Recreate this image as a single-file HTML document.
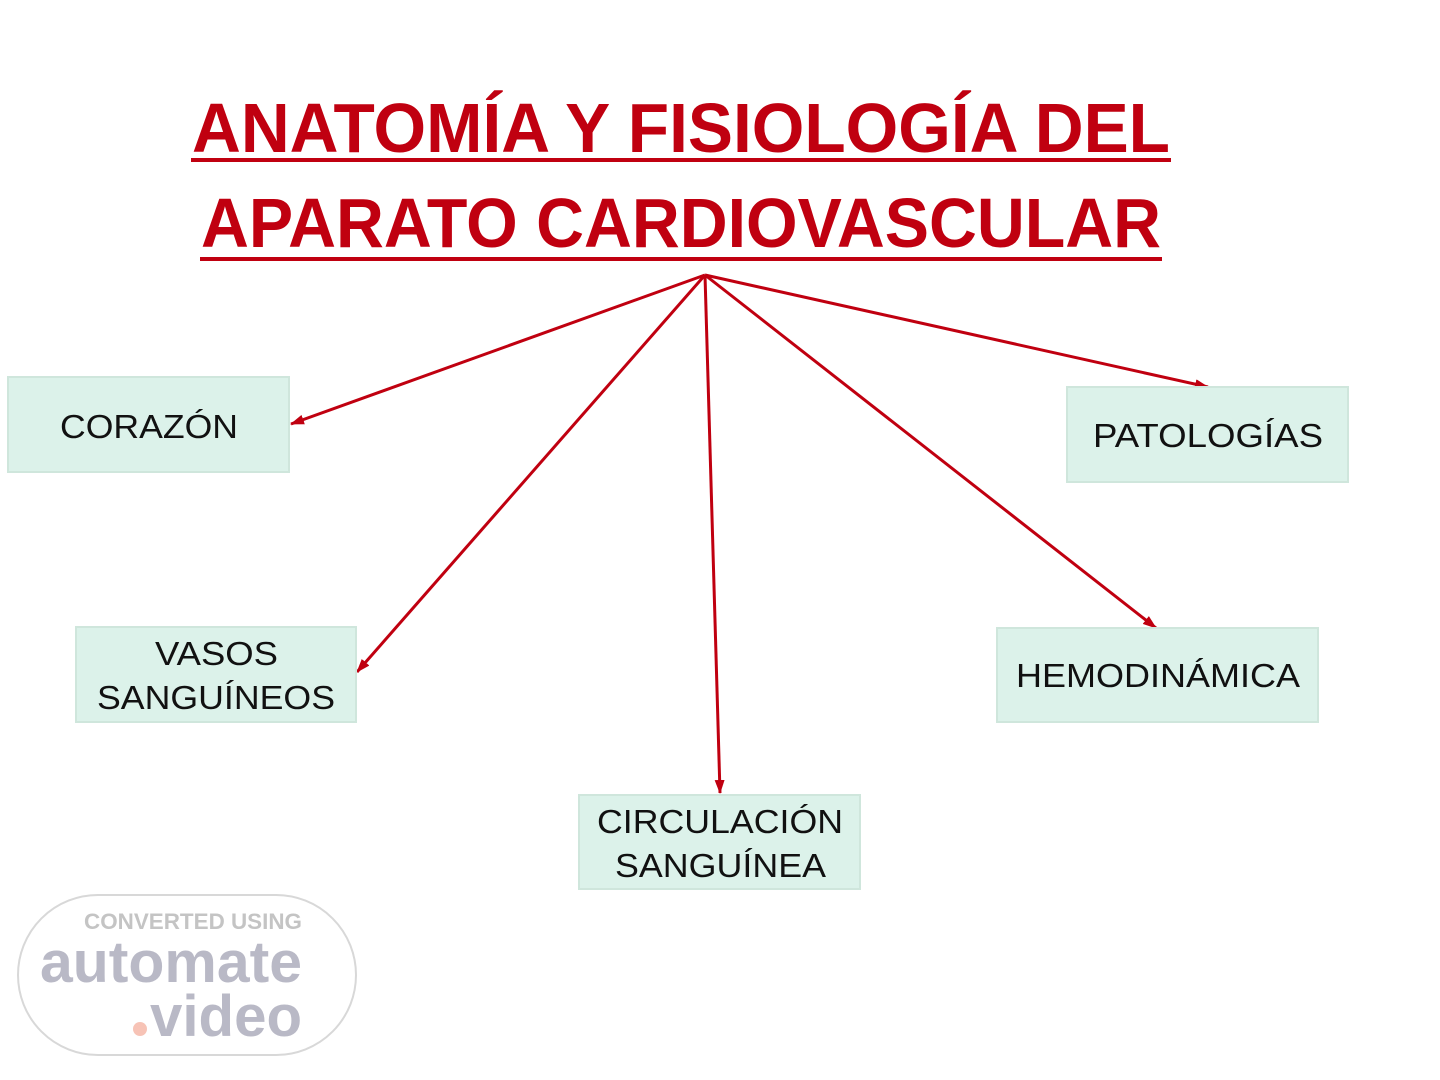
<!DOCTYPE html>
<html><head><meta charset="utf-8"><style>
html,body{margin:0;padding:0;background:#fff;}
svg{display:block;}
</style></head><body>
<svg width="1440" height="1080" viewBox="0 0 1440 1080" xmlns="http://www.w3.org/2000/svg">
<defs>
<marker id="ah" markerWidth="14" markerHeight="10" refX="13" refY="5" orient="auto" markerUnits="userSpaceOnUse">
<path d="M0,0 L14,5 L0,10 z" fill="#c00010"/>
</marker>
</defs>
<g font-family="Liberation Sans, sans-serif" font-weight="bold" fill="#c00010" font-size="70">
<text x="192" y="152" textLength="978" lengthAdjust="spacingAndGlyphs">ANATOMÍA Y FISIOLOGÍA DEL</text>
<text x="201" y="247" textLength="960" lengthAdjust="spacingAndGlyphs">APARATO CARDIOVASCULAR</text>
</g>
<rect x="191" y="158" width="980" height="4" fill="#c00010"/>
<rect x="200" y="257" width="962" height="4" fill="#c00010"/>
<g stroke="#c00010" stroke-width="3" fill="none" marker-end="url(#ah)">
<line x1="705" y1="275" x2="291" y2="424"/>
<line x1="705" y1="275" x2="357" y2="672"/>
<line x1="705" y1="275" x2="720" y2="793"/>
<line x1="705" y1="275" x2="1156" y2="628"/>
<line x1="705" y1="275" x2="1208" y2="387"/>
</g>
<g fill="#dcf2ea" stroke="#cfe6dc" stroke-width="2">
<rect x="8" y="377" width="281" height="95"/>
<rect x="76" y="627" width="280" height="95"/>
<rect x="579" y="795" width="281" height="94"/>
<rect x="997" y="628" width="321" height="94"/>
<rect x="1067" y="387" width="281" height="95"/>
</g>
<g font-family="Liberation Sans, sans-serif" font-size="33" fill="#111" lengthAdjust="spacingAndGlyphs">
<text x="60" y="438" textLength="178" lengthAdjust="spacingAndGlyphs">CORAZÓN</text>
<text x="155" y="665" textLength="123" lengthAdjust="spacingAndGlyphs">VASOS</text>
<text x="97" y="709" textLength="238" lengthAdjust="spacingAndGlyphs">SANGUÍNEOS</text>
<text x="597" y="833" textLength="246" lengthAdjust="spacingAndGlyphs">CIRCULACIÓN</text>
<text x="615" y="877" textLength="211" lengthAdjust="spacingAndGlyphs">SANGUÍNEA</text>
<text x="1016" y="687" textLength="284" lengthAdjust="spacingAndGlyphs">HEMODINÁMICA</text>
<text x="1093" y="447" textLength="230" lengthAdjust="spacingAndGlyphs">PATOLOGÍAS</text>
</g>
<rect x="18" y="895" width="338" height="160" rx="80" fill="#fff" stroke="#d8d8d8" stroke-width="2"/>
<g font-family="Liberation Sans, sans-serif" font-weight="bold" fill="#b9b9c6">
<text x="84" y="929" font-size="22" fill="#c4c4c4" textLength="218" lengthAdjust="spacingAndGlyphs">CONVERTED USING</text>
<text x="40" y="982" font-size="58" textLength="262" lengthAdjust="spacingAndGlyphs">automate</text>
<text x="150" y="1036" font-size="58" textLength="152" lengthAdjust="spacingAndGlyphs">video</text>
</g>
<circle cx="140" cy="1029" r="7" fill="#f7c3b6"/>
</svg>
</body></html>
